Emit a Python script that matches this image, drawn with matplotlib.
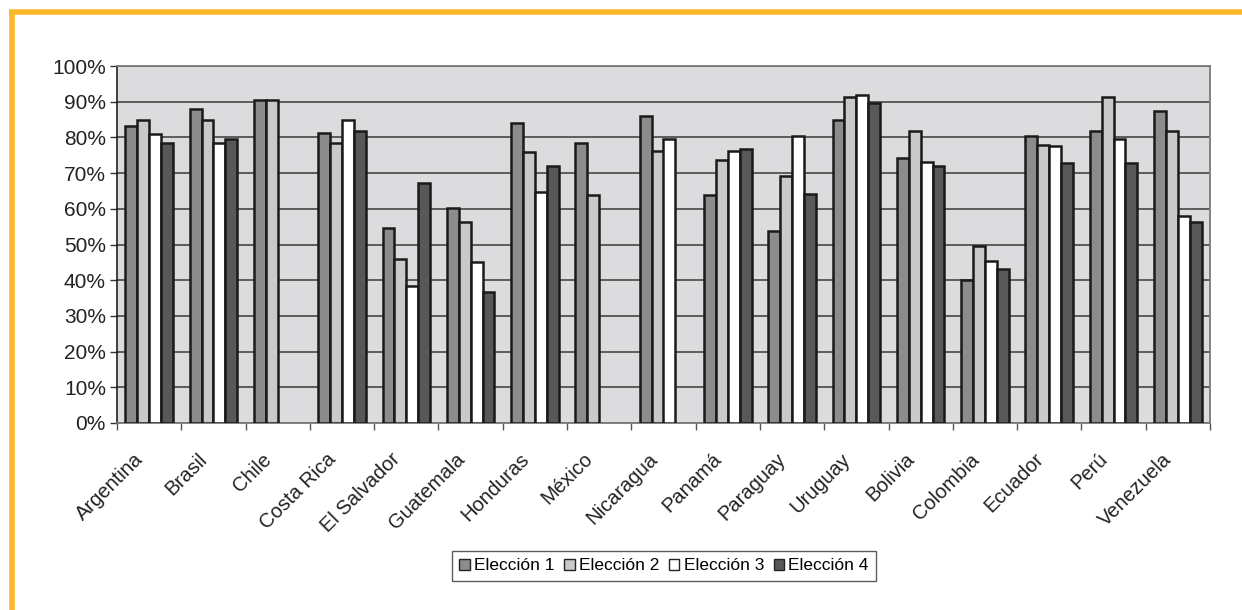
import matplotlib
matplotlib.use("Agg")
import matplotlib.pyplot as plt
import numpy as np
from matplotlib.patches import Patch
from matplotlib.lines import Line2D
from matplotlib.transforms import ScaledTranslation

plt.rcParams['font.family'] = ['Liberation Sans', 'DejaVu Sans']

countries = ["Argentina", "Brasil", "Chile", "Costa Rica", "El Salvador",
             "Guatemala", "Honduras", "México", "Nicaragua", "Panamá",
             "Paraguay", "Uruguay", "Bolivia", "Colombia", "Ecuador",
             "Perú", "Venezuela"]

series_names = ["Elección 1", "Elección 2", "Elección 3", "Elección 4"]

nan = np.nan
eleccion_1 = [83.1, 88.0, 90.4, 81.3, 54.5, 60.1, 84.0, 78.4, 86.1, 63.9,
              53.8, 85.0, 74.3, 40.1, 80.4, 81.7, 87.3]
eleccion_2 = [85.0, 84.9, 90.5, 78.4, 46.0, 56.2, 75.8, 63.9, 76.3, 73.7,
              69.3, 91.2, 81.9, 49.7, 78.0, 91.2, 81.8]
eleccion_3 = [80.9, 78.3, nan, 84.9, 38.4, 45.2, 64.8, nan, 79.5, 76.1,
              80.4, 91.9, 73.2, 45.4, 77.6, 79.6, 58.1]
eleccion_4 = [78.5, 79.6, nan, 81.7, 67.3, 36.8, 72.0, nan, nan, 76.8,
              64.1, 89.7, 72.1, 43.2, 72.9, 72.8, 56.4]

series = [eleccion_1, eleccion_2, eleccion_3, eleccion_4]
colors = ["#8c8c8e", "#c8c9cb", "#ffffff", "#58585a"]

fig = plt.figure(figsize=(12.42, 6.10), dpi=100)
ax = fig.add_axes([117 / 1242, 1 - 423 / 610, (1210 - 117) / 1242, (423 - 66) / 610])
ax.set_facecolor("#dcdcde")

x = np.arange(len(countries))
width = 0.185
offsets = (np.arange(4) - 1.5) * width
for vals, off, col in zip(series, offsets, colors):
    ax.bar(x + off, vals, width=width, color=col, edgecolor="#1a1a1a",
           linewidth=1.8, zorder=3)

ax.set_xlim(-0.5, len(countries) - 0.5)
ax.set_ylim(0, 100)

yt = np.arange(0, 101, 10)
ax.set_yticks(yt)
ax.set_yticklabels([f"{v}%" for v in yt], fontsize=15, color="#222222")
ax.yaxis.grid(True, color="#3a3a3a", linewidth=1.1, zorder=1)
ax.set_axisbelow(True)
ax.tick_params(axis="y", direction="out", length=5, width=1, color="#333333", pad=3)

ax.set_xticks(x)
ax.set_xticklabels(countries, fontsize=14.5, rotation=45, ha="right", va="center",
                   rotation_mode="anchor", color="#222222")
ax.tick_params(axis="x", which="major", length=0, pad=24)
ax.set_xticks(np.arange(-0.5, len(countries)), minor=True)
ax.tick_params(axis="x", which="minor", direction="out", length=5, width=1, color="#555555")
shift = ScaledTranslation(-6.5 / 72, 0, fig.dpi_scale_trans)
for lbl in ax.get_xticklabels():
    lbl.set_transform(lbl.get_transform() + shift)

for side in ["top", "right", "bottom"]:
    ax.spines[side].set_color("#7a7a7a")
    ax.spines[side].set_linewidth(1.3)
ax.spines["left"].set_color("#111111")
ax.spines["left"].set_linewidth(1.1)

handles = [Patch(facecolor=c, edgecolor="#222222", linewidth=1.0) for c in colors]
leg = fig.legend(handles, series_names, loc="center", bbox_to_anchor=(664 / 1242, 1 - 566 / 610),
                 ncol=4, fontsize=12.5, frameon=True, fancybox=False,
                 handlelength=0.6, handleheight=0.6, handletextpad=0.25,
                 columnspacing=0.55, borderpad=0.45, borderaxespad=0)
leg.get_frame().set_edgecolor("#333333")
leg.get_frame().set_linewidth(1.0)

# orange frame along the top and left edges
orange = "#fbb829"
fig.add_artist(Line2D([9 / 1242, 1.0], [1 - 12 / 610] * 2, color=orange, linewidth=4,
                      transform=fig.transFigure, solid_capstyle="butt"))
fig.add_artist(Line2D([12 / 1242] * 2, [1 - 9.5 / 610, 0.0], color=orange, linewidth=4,
                      transform=fig.transFigure, solid_capstyle="butt"))

fig.savefig("out.png", dpi=100)
